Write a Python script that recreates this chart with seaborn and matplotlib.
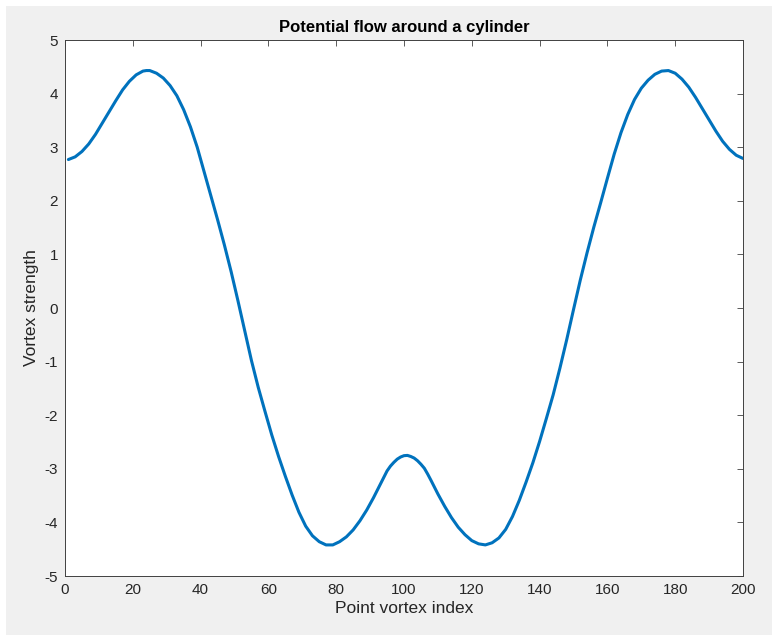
import matplotlib
matplotlib.use("Agg")
import matplotlib.pyplot as plt
import pandas as pd
import seaborn as sns
from matplotlib.patches import Rectangle

# Point vortex index (left half) and vortex strength
idx_left = [1, 3, 5, 7, 9, 11, 13, 15, 17, 19, 21, 23, 24, 25, 27, 29, 31, 33,
            35, 37, 39, 41, 43, 45, 47, 49, 51, 53, 55, 57, 59, 61, 63, 65, 67,
            69, 71, 73, 75, 77, 79, 81, 83, 85, 87, 89, 91, 93, 95, 96, 97, 98,
            99, 100, 101]
val_left = [2.77, 2.82, 2.92, 3.06, 3.24, 3.45, 3.66, 3.87, 4.07, 4.23, 4.35,
            4.42, 4.43, 4.43, 4.38, 4.29, 4.15, 3.96, 3.70, 3.38, 3.00, 2.55,
            2.10, 1.65, 1.18, 0.68, 0.14, -0.42, -0.98, -1.48, -1.93, -2.37,
            -2.77, -3.14, -3.49, -3.81, -4.07, -4.25, -4.36, -4.42, -4.42,
            -4.36, -4.27, -4.14, -3.97, -3.77, -3.54, -3.29, -3.04, -2.95,
            -2.88, -2.82, -2.78, -2.755, -2.75]

# Right half
idx_right = [102, 103, 104, 105, 106, 107, 108, 110, 112, 114, 116, 118, 120,
             122, 124, 126, 128, 130, 132, 134, 136, 138, 140, 142, 144, 146,
             148, 150, 152, 154, 156, 158, 160, 162, 164, 166, 168, 170, 172,
             174, 176, 178, 180, 182, 184, 186, 188, 190, 192, 194, 196, 198,
             200]
val_right = [-2.77, -2.80, -2.85, -2.915, -2.99, -3.10, -3.22, -3.47, -3.70,
             -3.91, -4.09, -4.23, -4.34, -4.40, -4.42, -4.38, -4.29, -4.13,
             -3.89, -3.59, -3.25, -2.89, -2.49, -2.06, -1.62, -1.12, -0.59,
             -0.03, 0.52, 1.03, 1.51, 1.96, 2.42, 2.87, 3.27, 3.61, 3.89, 4.10,
             4.25, 4.36, 4.42, 4.43, 4.38, 4.27, 4.12, 3.93, 3.72, 3.51, 3.30,
             3.11, 2.96, 2.85, 2.79]

x_ticks = list(range(0, 201, 20))
y_ticks = list(range(-5, 6))

sns.set_theme(style="white")
plt.rcParams["font.family"] = ["Liberation Sans", "DejaVu Sans"]

W, H = 772, 635
fig = plt.figure(figsize=(W / 100, H / 100), dpi=100, facecolor="white")
fig.patches.append(Rectangle((6 / W, 0), 1 - 6 / W, 1 - 6 / H,
                             transform=fig.transFigure, facecolor="#f0f0f0",
                             edgecolor="none", zorder=-10))

ax = fig.add_axes([65 / W, 1 - 576 / H, 678 / W, 536 / H])
ax.set_facecolor("white")

df = pd.DataFrame({"index": idx_left + idx_right,
                   "strength": val_left + val_right})
sns.lineplot(data=df, x="index", y="strength", ax=ax, color="#0072BD",
             linewidth=2.2, sort=True)

ax.set_xlim(0, 200)
ax.set_ylim(-5, 5)
ax.set_xticks(x_ticks)
ax.set_yticks(y_ticks)
ax.set_xticklabels([str(t) for t in x_ticks])
ax.set_yticklabels([str(t) for t in y_ticks])
ax.tick_params(direction="in", top=True, right=True, length=4.5, width=0.6,
               labelsize=11, colors="#262626", color="#404040")
ax.tick_params(axis="x", pad=5)
ax.tick_params(axis="y", pad=5)
for s in ax.spines.values():
    s.set_visible(True)
    s.set_color("#404040")
    s.set_linewidth(0.7)

ax.set_xlabel("Point vortex index", fontsize=12.5, color="#262626", labelpad=3)
ax.set_ylabel("Vortex strength", fontsize=12.5, color="#262626", labelpad=4)
ax.set_title("Potential flow around a cylinder", fontsize=12, fontweight="bold",
             color="black", pad=6)

fig.savefig("out.png", dpi=100, facecolor=fig.get_facecolor())
